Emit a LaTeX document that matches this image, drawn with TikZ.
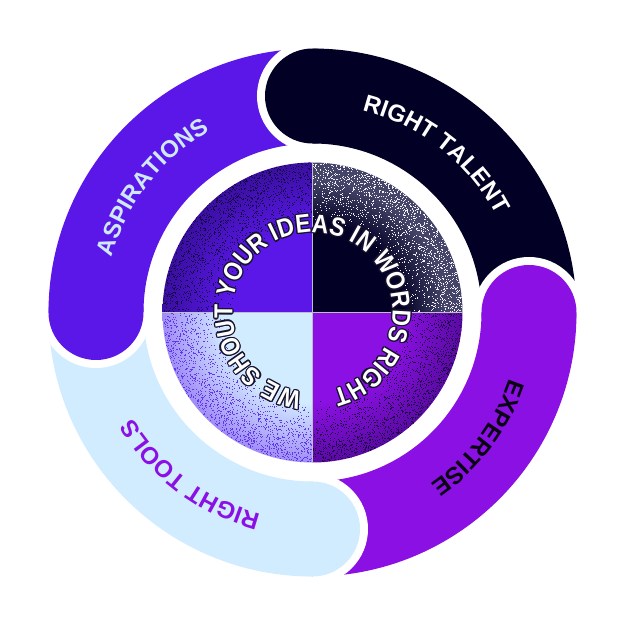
\documentclass[tikz,border=0pt]{standalone}
\usepackage{fontspec}
\setmainfont{Liberation Sans}
\newfontfamily\labfont{Liberation Sans}
\newfontfamily\ctrfont{Liberation Sans}[FakeStretch=0.88]
\newcommand{\ctrsel}{\ctrfont\bfseries\fontsize{26}{30}\selectfont}
\newcommand{\labsel}{\labfont\bfseries\fontsize{24}{30}\selectfont}
\usetikzlibrary{decorations.text}
\definecolor{cAsp}{HTML}{5A17E8}
\definecolor{cTal}{HTML}{020024}
\definecolor{cExp}{HTML}{8B10E3}
\definecolor{cToo}{HTML}{D2ECFF}
\definecolor{cAspT}{HTML}{CFE8FF}
\definecolor{cExpT}{HTML}{0A0014}
\definecolor{cTooT}{HTML}{8B10E3}
\definecolor{cOut}{HTML}{16122E}
\definecolor{cGrid}{HTML}{BFBFCC}
% rim colours of the inner quadrants
\definecolor{rTL}{HTML}{3A0FA0}
\definecolor{rTR}{HTML}{45456A}
\definecolor{rBR}{HTML}{5A0AA4}
\definecolor{rBL}{HTML}{A08CF6}
\definecolor{dTL}{HTML}{160548}
\definecolor{dTR}{HTML}{F0F0F6}
\definecolor{dBR}{HTML}{22044A}
\definecolor{dBL}{HTML}{6236EE}
\pgfdeclareradialshading{shTL}{\pgfpoint{0bp}{0bp}}{color(0bp)=(cAsp); color(14bp)=(cAsp); color(25bp)=(rTL); color(50bp)=(rTL)}
\pgfdeclareradialshading{shTR}{\pgfpoint{0bp}{0bp}}{color(0bp)=(cTal); color(15bp)=(cTal); color(22bp)=(rTR); color(25bp)=(rTR); color(50bp)=(rTR)}
\pgfdeclareradialshading{shBR}{\pgfpoint{0bp}{0bp}}{color(0bp)=(cExp); color(15bp)=(cExp); color(25bp)=(rBR); color(50bp)=(rBR)}
\pgfdeclareradialshading{shBL}{\pgfpoint{0bp}{0bp}}{color(0bp)=(cToo); color(15bp)=(cToo); color(25bp)=(rBL); color(50bp)=(rBL)}
\tikzset{
  capgap/.style={white, line width=16pt},
  ctrdec/.style={decorate, decoration={text along path, text align=center, text color=#1,
     text={|\ctrsel|WE SHOUT YOUR IDEAS IN WORDS RIGHT}}},
}
% grain: #1 start angle, #2 colour, #3 count, #4 inner radius
\newcommand{\grain}[4]{%
  \foreach \i in {1,...,#3}{%
    \pgfmathsetmacro\gt{#1+90*rnd}%
    \pgfmathsetmacro\gr{#4+(150-#4)*pow(rnd+0.0005,0.45)}%
    \fill[#2] (\gt:\gr pt) rectangle ++(1pt,1pt);
  }}
\begin{document}
\begin{tikzpicture}[x=1pt,y=1pt]
\pgfmathsetseed{7}
\fill[white] (-312.5,-312.5) rectangle (312.5,312.5);
\useasboundingbox (-312.5,-312.5) rectangle (312.5,312.5);
% bands
\foreach \p/\c in {90/cTal, 0/cExp, -90/cToo, 180/cAsp}{
  \fill[\c] (\p:264pt) arc[start angle=\p, end angle=\p-90, radius=264pt]
    -- (\p-90:169pt) arc[start angle=\p-90, end angle=\p, radius=169pt] -- cycle;
}
% rounded caps with white gaps
\foreach \p/\c/\n in {90/cTal/capT, 0/cExp/capE, -90/cToo/capR, 180/cAsp/capA}{
  \coordinate (\n) at (\p:216.5pt);
  \draw[capgap] (\p:264pt) arc[start angle=\p, end angle=\p+180, radius=47.5pt];
  \fill[\c] (\n) circle (47.5pt);
}
% labels
\path[decorate, decoration={text along path, text align=center, text color=cAspT, text={|\labsel|ASPIRATIONS}}]
  (202:208pt) arc[start angle=202, end angle=82, radius=208pt];
\path[decorate, decoration={text along path, text align=center, text color=white, text={|\labsel|RIGHT TALENT}}]
  (112:208pt) arc[start angle=112, end angle=-8, radius=208pt];
\path[decorate, decoration={text along path, text align=center, text color=cExpT, text={|\labsel|EXPERTISE}}]
  (23:208pt) arc[start angle=23, end angle=-97, radius=208pt];
\path[decorate, decoration={text along path, text align=center, text color=cTooT, text={|\labsel|RIGHT TOOLS}}]
  (-67:208pt) arc[start angle=-67, end angle=-187, radius=208pt];
% inner disc quadrants
\coordinate (ctr) at (0,0);
\begin{scope}\clip (ctr) -- (180:150pt) arc[start angle=180, end angle=90, radius=150pt] -- cycle;
  \shade[shading=shTL] (ctr) circle (150pt); \grain{90}{dTL}{1600}{75}\end{scope}
\begin{scope}\clip (ctr) -- (90:150pt) arc[start angle=90, end angle=0, radius=150pt] -- cycle;
  \shade[shading=shTR] (ctr) circle (150pt); \grain{0}{dTR}{1600}{85}\end{scope}
\begin{scope}\clip (ctr) -- (0:150pt) arc[start angle=0, end angle=-90, radius=150pt] -- cycle;
  \shade[shading=shBR] (ctr) circle (150pt); \grain{-90}{dBR}{1600}{85}\end{scope}
\begin{scope}\clip (ctr) -- (-90:150pt) arc[start angle=-90, end angle=-180, radius=150pt] -- cycle;
  \shade[shading=shBL] (ctr) circle (150pt); \grain{180}{dBL}{1600}{85}\end{scope}
\coordinate (qT) at (90:150pt); \coordinate (qB) at (-90:150pt);
\coordinate (qL) at (180:150pt); \coordinate (qR) at (0:150pt);
\draw[cGrid, line width=0.8pt] (qT) -- (qB) (qL) -- (qR);
% curved centre text with outline
\foreach \a in {0,30,...,330}{
  \path[shift={(\a:1.2pt)}, ctrdec=cOut]
    (-86.5:80pt) arc[start angle=-86.5, end angle=-446.5, radius=80pt];
}
\path[ctrdec=white] (-86.5:80pt) arc[start angle=-86.5, end angle=-446.5, radius=80pt];
\end{tikzpicture}
\end{document}
